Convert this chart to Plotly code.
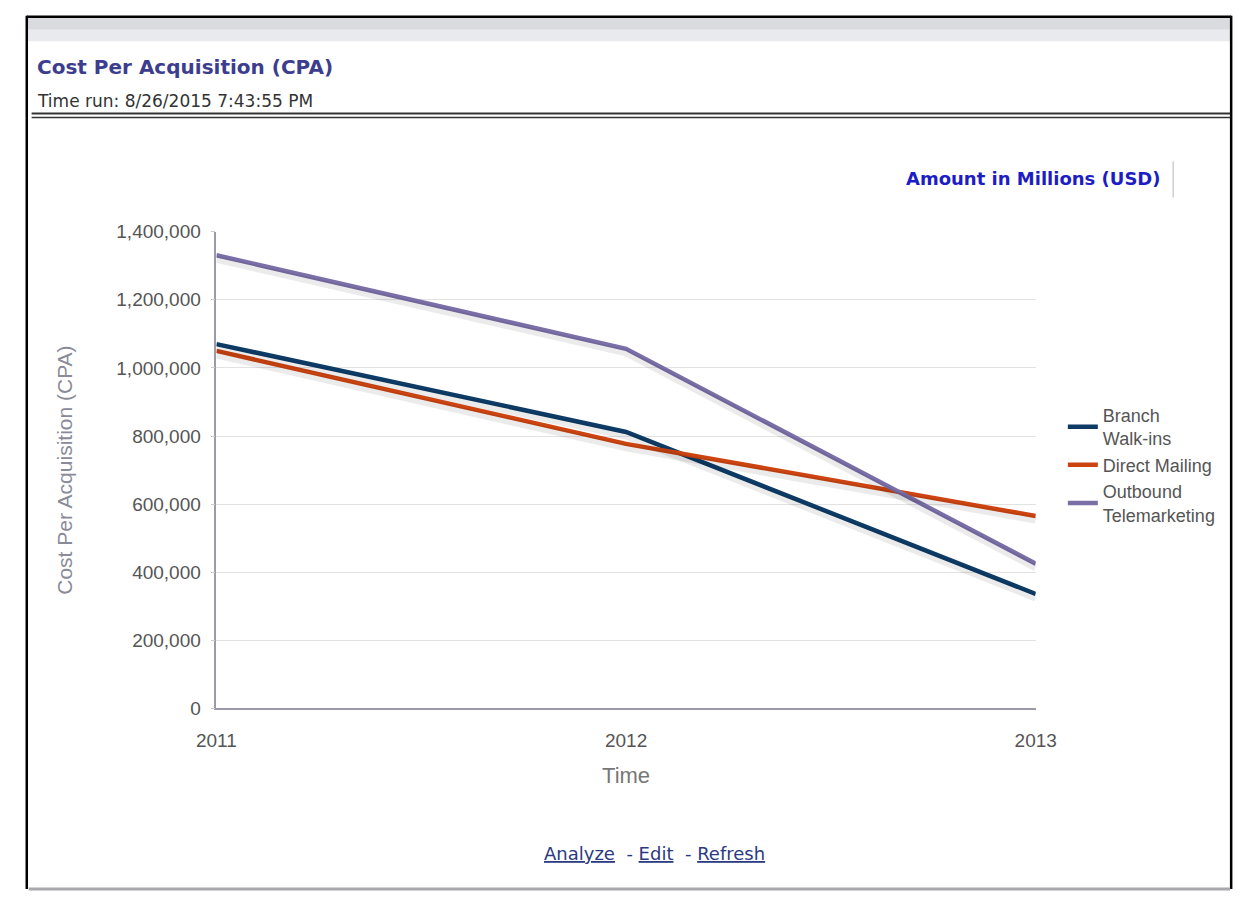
import plotly.graph_objects as go

# Yearly cost per acquisition by channel
years = [2011, 2012, 2013]
branch_walkins = [1070000, 812000, 336000]
direct_mailing = [1050000, 777000, 565000]
outbound_tele = [1331000, 1056000, 425000]

series = [
    ("Branch<br>Walk-ins", branch_walkins, "#0d3b66"),
    ("Direct Mailing", direct_mailing, "#cc4411"),
    ("Outbound<br>Telemarketing", outbound_tele, "#7b6fa8"),
]

y_ticks = [0, 200000, 400000, 600000, 800000, 1000000, 1200000, 1400000]
y_max = 1400000
shadow_shift = 12000

W, H = 1257, 905
X0, X1 = 203 / W, 1050 / W
Y0, Y1 = 1 - 715 / H, 1 - 227 / H

fig = go.Figure()

# soft drop shadows drawn on an overlaid, slightly shifted axis
for name, vals, color in series:
    fig.add_trace(go.Scatter(
        x=years, y=vals, mode="lines", yaxis="y2", showlegend=False,
        hoverinfo="skip", line=dict(color="rgba(0,0,0,0.08)", width=7),
    ))

for name, vals, color in series:
    fig.add_trace(go.Scatter(
        x=years, y=vals, mode="lines", name=name,
        line=dict(color=color, width=4.5),
    ))

tick_font = dict(family="Liberation Sans, Arial", size=19, color="#555555")

fig.update_layout(
    width=W, height=H,
    margin=dict(l=0, r=0, t=0, b=0),
    paper_bgcolor="white", plot_bgcolor="white",
    showlegend=True,
    legend=dict(
        x=1078 / W, y=1 - 396 / H, xanchor="left", yanchor="top",
        font=dict(family="Liberation Sans, Arial", size=18, color="#555555"),
        itemwidth=30, tracegroupgap=2, bgcolor="rgba(0,0,0,0)",
    ),
    xaxis=dict(
        domain=[X0, X1], range=[2011, 2013],
        tickvals=years, ticktext=[str(y) for y in years],
        showgrid=False, zeroline=False,
        showline=True, linecolor="#9a9aa8", linewidth=1.5,
        ticks="", tickfont=tick_font, ticklabelstandoff=14,
        title=dict(text="Time", font=dict(family="Liberation Sans, Arial", size=22, color="#777777"), standoff=18),
    ),
    yaxis=dict(
        domain=[Y0, Y1], range=[0, y_max],
        tickvals=y_ticks, tickformat=",d",
        showgrid=True, gridcolor="#e2e2e2", gridwidth=1,
        zeroline=False,
        showline=True, linecolor="#9a9aa8", linewidth=1.5,
        ticks="outside", ticklen=4, tickcolor="#cccccc",
        tickfont=tick_font, ticklabelstandoff=6,
        title=dict(text="Cost Per Acquisition (CPA)",
                   font=dict(family="Liberation Sans, Arial", size=21, color="#8a8a98"), standoff=38),
    ),
    yaxis2=dict(
        domain=[Y0, Y1], range=[shadow_shift, y_max + shadow_shift], overlaying="y",
        visible=False, showgrid=False,
    ),
)

# page chrome: outer frame, header band, rules
shapes = [
    dict(type="rect", xref="paper", yref="paper", x0=8 / W, x1=1251 / W, y0=1 - 32 / H, y1=1 - 8 / H,
         fillcolor="#e9eaed", line=dict(width=0), layer="below"),
    dict(type="rect", xref="paper", yref="paper", x0=8 / W, x1=1251 / W, y0=1 - 20 / H, y1=1 - 8 / H,
         fillcolor="#dadbdf", line=dict(width=0), layer="below"),
    dict(type="line", xref="paper", yref="paper", x0=7 / W, x1=7 / W, y0=1 - 900 / H, y1=1 - 6 / H,
         line=dict(color="black", width=2.5)),
    dict(type="line", xref="paper", yref="paper", x0=1252 / W, x1=1252 / W, y0=1 - 900 / H, y1=1 - 6 / H,
         line=dict(color="black", width=2.5)),
    dict(type="line", xref="paper", yref="paper", x0=7 / W, x1=1252 / W, y0=1 - 7 / H, y1=1 - 7 / H,
         line=dict(color="black", width=2.5)),
    dict(type="line", xref="paper", yref="paper", x0=9 / W, x1=1251 / W, y0=1 - 900 / H, y1=1 - 900 / H,
         line=dict(color="#a8a8ac", width=3)),
    dict(type="line", xref="paper", yref="paper", x0=12 / W, x1=1251 / W, y0=1 - 106 / H, y1=1 - 106 / H,
         line=dict(color="#333333", width=2)),
    dict(type="line", xref="paper", yref="paper", x0=12 / W, x1=1251 / W, y0=1 - 110 / H, y1=1 - 110 / H,
         line=dict(color="#333333", width=1.5)),
    dict(type="line", xref="paper", yref="paper", x0=1192 / W, x1=1192 / W, y0=1 - 192 / H, y1=1 - 155 / H,
         line=dict(color="#b8b8b8", width=1)),
]
fig.update_layout(shapes=shapes)

annotations = [
    dict(text="<b>Cost Per Acquisition (CPA)</b>", x=15 / W, y=1 - 58 / H, xanchor="left", yanchor="middle",
         font=dict(family="DejaVu Sans", size=20, color="#3d3d8f")),
    dict(text="Time run: 8/26/2015 7:43:55 PM", x=15 / W, y=1 - 93 / H, xanchor="left", yanchor="middle",
         font=dict(family="DejaVu Sans", size=17, color="#333333")),
    dict(text="<b>Amount in Millions (USD)</b>", x=1182 / W, y=1 - 172 / H, xanchor="right", yanchor="middle",
         font=dict(family="DejaVu Sans", size=18, color="#1d1dc4")),
    dict(text="<u>Analyze</u>  - <u>Edit</u>  - <u>Refresh</u>", x=656 / W, y=1 - 864 / H,
         xanchor="center", yanchor="middle",
         font=dict(family="DejaVu Sans", size=18, color="#2b3a80")),
]
for a in annotations:
    a.update(xref="paper", yref="paper", showarrow=False)
fig.update_layout(annotations=annotations)

fig.write_html("out.html")
